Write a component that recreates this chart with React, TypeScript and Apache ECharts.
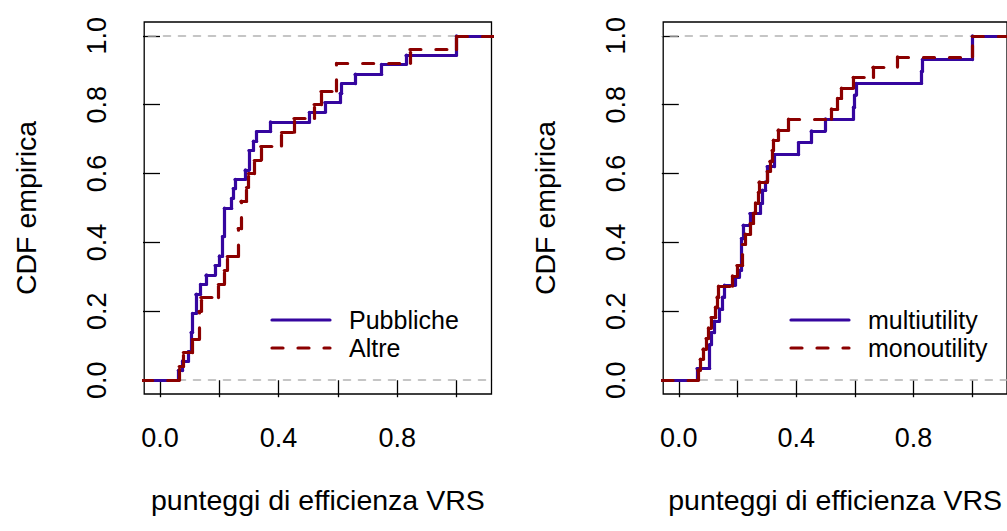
import React, { useEffect, useRef } from "react";
import * as echarts from "echarts";

// ---- axis ticks ----
const xTickValues = [0, 0.2, 0.4, 0.6, 0.8, 1.0];
const xLabelValues = [0, 0.4, 0.8];
const yTickValues = [0, 0.2, 0.4, 0.6, 0.8, 1.0];

// ---- left panel: Pubbliche vs Altre (jump points of the ECDF) ----
const pubblicheX = [0.062, 0.076, 0.096, 0.105, 0.110, 0.121, 0.137, 0.155, 0.186, 0.200, 0.211, 0.217, 0.242, 0.247, 0.253, 0.287, 0.300, 0.315, 0.326, 0.373, 0.504, 0.556, 0.608, 0.613, 0.658, 0.748, 0.830, 1.000];
const pubblicheY = [0.028, 0.056, 0.083, 0.139, 0.194, 0.250, 0.278, 0.306, 0.333, 0.361, 0.417, 0.500, 0.528, 0.556, 0.583, 0.611, 0.667, 0.694, 0.722, 0.750, 0.778, 0.806, 0.833, 0.861, 0.889, 0.917, 0.944, 1.000];
const altreX = [0.065, 0.079, 0.109, 0.132, 0.138, 0.197, 0.217, 0.227, 0.264, 0.273, 0.292, 0.298, 0.318, 0.340, 0.410, 0.452, 0.520, 0.543, 0.596, 0.843, 1.000];
const altreY = [0.04, 0.08, 0.12, 0.20, 0.24, 0.28, 0.32, 0.36, 0.44, 0.52, 0.56, 0.60, 0.64, 0.68, 0.72, 0.76, 0.80, 0.84, 0.92, 0.96, 1.00];

// ---- right panel: multiutility vs monoutility ----
const multiX = [0.062, 0.105, 0.110, 0.120, 0.138, 0.149, 0.155, 0.191, 0.206, 0.213, 0.219, 0.242, 0.277, 0.284, 0.296, 0.301, 0.324, 0.408, 0.451, 0.498, 0.595, 0.599, 0.603, 0.827, 0.830, 1.000];
const multiY = [0.034, 0.103, 0.138, 0.172, 0.207, 0.241, 0.276, 0.300, 0.319, 0.411, 0.450, 0.484, 0.513, 0.552, 0.576, 0.620, 0.655, 0.690, 0.724, 0.759, 0.793, 0.828, 0.862, 0.897, 0.931, 1.000];
const monoX = [0.065, 0.073, 0.082, 0.093, 0.101, 0.110, 0.125, 0.130, 0.136, 0.183, 0.198, 0.217, 0.226, 0.243, 0.254, 0.262, 0.271, 0.273, 0.301, 0.310, 0.318, 0.322, 0.338, 0.374, 0.520, 0.541, 0.554, 0.594, 0.661, 0.745, 1.000];
const monoY = [0.030, 0.061, 0.091, 0.121, 0.152, 0.182, 0.212, 0.242, 0.273, 0.303, 0.333, 0.394, 0.424, 0.455, 0.485, 0.515, 0.545, 0.576, 0.606, 0.636, 0.667, 0.697, 0.727, 0.758, 0.788, 0.818, 0.848, 0.879, 0.909, 0.939, 1.000];

const legendLeft = ["Pubbliche", "Altre"];
const legendRight = ["multiutility", "monoutility"];
const xTitle = "punteggi di efficienza VRS";
const yTitle = "CDF empirica";

const BLUE = "#35069f";
const RED = "#8b0000";
const GREY = "#b3b3b3";
const FONT = "Liberation Sans, Arial, Helvetica, sans-serif";
const FS = 27;
const FS_TITLE = 28.5;
const FS_LEGEND = 25;

const X_MIN = -0.0532;
const X_MAX = 1.1182;

function stepSegments(xs: number[], ys: number[]) {
  const segs: any[] = [];
  let px = -0.5;
  let py = 0;
  for (let i = 0; i < xs.length; i++) {
    segs.push({ coords: [[px, py], [xs[i], py]] });
    segs.push({ coords: [[xs[i], py], [xs[i], ys[i]]] });
    px = xs[i];
    py = ys[i];
  }
  segs.push({ coords: [[px, py], [1.6, py]] });
  return segs;
}

function makeAxes(i: number) {
  const xAxis = {
    type: "value",
    gridIndex: i,
    min: X_MIN,
    max: X_MAX,
    name: xTitle,
    nameLocation: "middle",
    nameGap: 91,
    nameTextStyle: { fontSize: FS_TITLE, fontFamily: FONT, color: "#000" },
    axisLine: { show: false },
    splitLine: { show: false },
    axisTick: {
      show: true,
      customValues: xTickValues,
      length: 17,
      lineStyle: { color: "#000", width: 1.3 },
    },
    axisLabel: {
      show: true,
      customValues: xLabelValues,
      formatter: (v: number) => v.toFixed(1),
      fontSize: FS,
      fontFamily: FONT,
      color: "#000",
      margin: 30,
    },
  };
  const yAxis = {
    type: "value",
    gridIndex: i,
    min: -0.04,
    max: 1.04,
    name: yTitle,
    nameLocation: "middle",
    nameRotate: 90,
    nameGap: 104,
    nameTextStyle: { fontSize: FS_TITLE, fontFamily: FONT, color: "#000" },
    axisLine: { show: false },
    splitLine: { show: false },
    axisTick: {
      show: true,
      customValues: yTickValues,
      length: 17,
      lineStyle: { color: "#000", width: 1.3 },
    },
    axisLabel: {
      show: true,
      customValues: yTickValues,
      formatter: (v: number) => v.toFixed(1),
      rotate: 90,
      fontSize: FS,
      fontFamily: FONT,
      color: "#000",
      margin: 34,
    },
  };
  return { xAxis, yAxis };
}

function makeSeries(i: number, bx: number[], by: number[], rx: number[], ry: number[]) {
  const common = {
    type: "lines",
    coordinateSystem: "cartesian2d",
    xAxisIndex: i,
    yAxisIndex: i,
    polyline: false,
    clip: true,
    silent: true,
  };
  return [
    {
      ...common,
      z: 1,
      data: [
        { coords: [[-1, 0], [2, 0]] },
        { coords: [[-1, 1], [2, 1]] },
      ],
      lineStyle: { color: GREY, width: 1.6, type: [7, 8], cap: "round", opacity: 1 },
    },
    {
      ...common,
      z: 2,
      data: stepSegments(bx, by),
      lineStyle: { color: BLUE, width: 3.2, type: "solid", cap: "round", opacity: 1 },
    },
    {
      ...common,
      z: 3,
      data: stepSegments(rx, ry),
      lineStyle: { color: RED, width: 3.2, type: [11, 15], cap: "round", opacity: 1 },
    },
  ];
}

function legendGraphics(offset: number, labels: string[]) {
  const x1 = 272 + offset;
  const x2 = 330 + offset;
  const tx = 349 + offset;
  const y1 = 320;
  const y2 = 348;
  const textStyle = {
    fill: "#000",
    fontSize: FS_LEGEND,
    fontFamily: FONT,
    verticalAlign: "middle",
    align: "left",
    lineHeight: 25,
  };
  return [
    {
      type: "line",
      shape: { x1, y1, x2, y2: y1 },
      style: { stroke: BLUE, lineWidth: 3.2, lineCap: "round" },
    },
    {
      type: "line",
      shape: { x1, y1: y2, x2, y2 },
      style: { stroke: RED, lineWidth: 3.2, lineDash: [11, 15], lineCap: "round" },
    },
    { type: "text", x: tx, y: y1, style: { ...textStyle, text: labels[0] } },
    { type: "text", x: tx, y: y2, style: { ...textStyle, text: labels[1] } },
  ];
}

export default function App() {
  const ref = useRef<HTMLDivElement>(null);
  useEffect(() => {
    if (!ref.current) return;
    const chart = echarts.init(ref.current, null, { renderer: "svg" });
    const a0 = makeAxes(0);
    const a1 = makeAxes(1);
    const gridCommon = {
      show: true,
      borderColor: "#000",
      borderWidth: 1.3,
      backgroundColor: "transparent",
      top: 22,
      height: 372,
      width: 347.3,
      containLabel: false,
    };
    chart.setOption({
      animation: false,
      backgroundColor: "#fff",
      grid: [
        { ...gridCommon, left: 144.2 },
        { ...gridCommon, left: 663.2 },
      ],
      xAxis: [a0.xAxis, a1.xAxis],
      yAxis: [a0.yAxis, a1.yAxis],
      series: [
        ...makeSeries(0, pubblicheX, pubblicheY, altreX, altreY),
        ...makeSeries(1, multiX, multiY, monoX, monoY),
      ],
      graphic: [...legendGraphics(0, legendLeft), ...legendGraphics(519, legendRight)],
    });
    return () => chart.dispose();
  }, []);
  return (
    <div
      ref={ref}
      style={{ position: "absolute", left: 0, top: 0, width: 1007, height: 531, background: "#fff" }}
    />
  );
}
